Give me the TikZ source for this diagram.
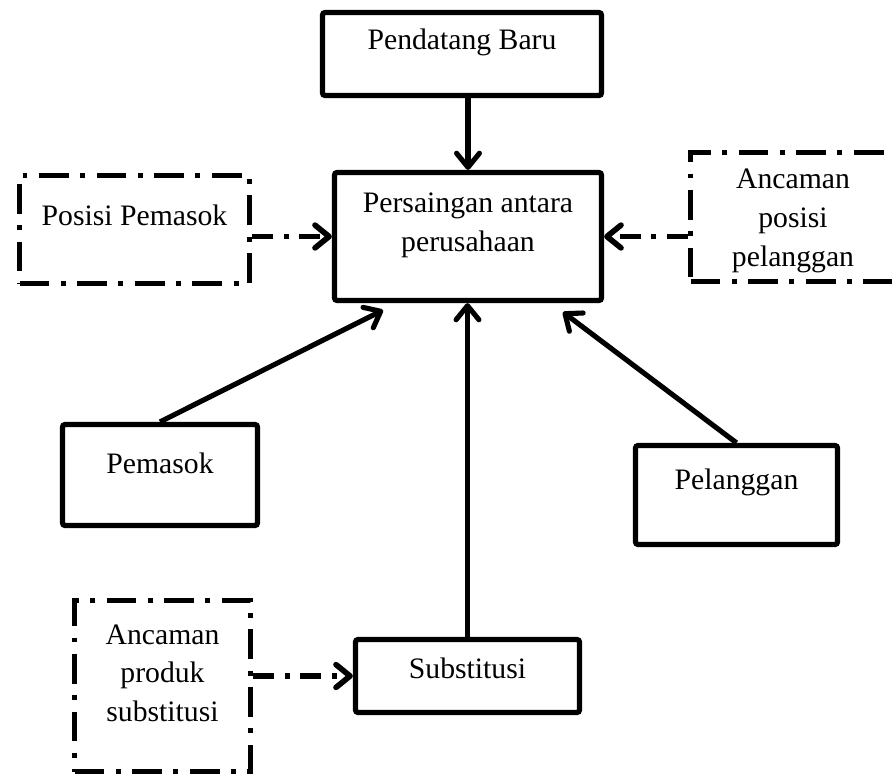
\documentclass[tikz,border=0pt]{standalone}
\usepackage{fontspec}
\setmainfont{Liberation Serif}
\usetikzlibrary{calc,arrows.meta}

\begin{document}
\begin{tikzpicture}[
  box/.style={draw, line width=3pt, rounded corners=1.5pt},
  dbox/.style={draw, line width=3.2pt, dash pattern=on 17pt off 6.5pt on 2.8pt off 6.5pt},
  txt/.style={align=center, inner sep=0pt, font=\fontsize{16.9}{22}\selectfont},
  arr/.style={line width=2.9pt, -{Straight Barb[length=8pt,width=13pt,round]}},
  darr/.style={arr, line width=3.2pt, dash pattern=on 12pt off 6pt on 2.8pt off 6pt}
]
\useasboundingbox (0,0) rectangle (17.84,-15.52);
\clip (0,0) rectangle (17.84,-15.52);

\node[box, minimum width=5.58cm, minimum height=1.66cm] (baru) at (9.24,-1.08) {};
\node[txt] (barut) at ($(baru)+(0,0.24)$) {Pendatang Baru};

\node[box, minimum width=5.34cm, minimum height=2.56cm] (pers) at (9.36,-4.73) {};
\node[txt] (perst) at ($(pers)+(0,0.23)$) {Persaingan antara\\perusahaan};

\node[dbox, minimum width=4.6cm, minimum height=2.16cm] (pospem) at (2.69,-4.59) {};
\node[txt] (pospemt) at ($(pospem)+(0,0.29)$) {Posisi Pemasok};

\node[dbox, minimum width=4.1cm, minimum height=2.58cm] (ancpos) at (15.86,-4.34) {};
\node[txt] (ancpost) at ($(ancpos)+(0,-0.08)$) {Ancaman\\posisi\\pelanggan};

\node[box, minimum width=3.9cm, minimum height=2.02cm] (pemasok) at (3.2,-9.5) {};
\node[txt] (pemasokt) at ($(pemasok)+(0,0.24)$) {Pemasok};

\node[box, minimum width=4.04cm, minimum height=1.98cm] (pelanggan) at (14.73,-9.9) {};
\node[txt] (pelanggant) at ($(pelanggan)+(0,0.26)$) {Pelanggan};

\node[box, minimum width=4.48cm, minimum height=1.46cm] (subs) at (9.35,-13.52) {};
\node[txt] (subst) at ($(subs)+(0,0.16)$) {Substitusi};

\node[dbox, minimum width=3.52cm, minimum height=3.42cm] (ancprod) at (3.25,-13.72) {};
\node[txt] (ancprodt) at ($(ancprod)+(0,0.26)$) {Ancaman\\produk\\substitusi};

\draw[arr] (baru.south -| pers) -- (pers.north);
\draw[darr] (pospem.east |- pers) -- (pers.west);
\draw[darr] (ancpos.west |- pers) -- (pers.east);
\draw[arr] (pemasok.north) -- ([xshift=-1.7cm,yshift=-0.14cm]pers.south);
\draw[arr] (pelanggan.north) -- ([xshift=1.9cm,yshift=-0.18cm]pers.south);
\draw[arr] (subs.north) -- (subs.north |- pers.south);
\draw[darr] (ancprod.east |- subs) -- (subs.west);
\end{tikzpicture}
\end{document}
